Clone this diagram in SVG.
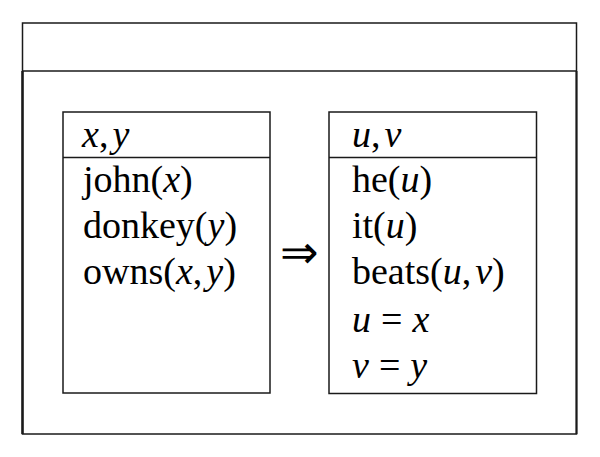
<svg xmlns="http://www.w3.org/2000/svg" width="600" height="457" viewBox="0 0 600 457">
<style>
.box{fill:none;stroke:#1a1a1a;stroke-width:1.5}
text{font-family:'Liberation Serif','Times New Roman',serif;font-size:38px;fill:#000}
.i{font-style:italic}
.ar{font-size:46px;font-weight:300}
</style>
<rect width="600" height="457" fill="#fff"/>
<g id="outer">
<rect class="box" x="22.5" y="23" width="554" height="411"/>
<line class="box" x1="22.5" y1="71" x2="576.5" y2="71"/>
<line x1="22.5" y1="71" x2="22.5" y2="434" stroke="#1a1a1a" stroke-width="2.5"/>
<line x1="576.5" y1="71" x2="576.5" y2="434" stroke="#1a1a1a" stroke-width="2"/>
</g>
<g id="left-box">
<rect class="box" x="63" y="112" width="207" height="281"/>
<line class="box" x1="63" y1="157.5" x2="270" y2="157.5"/>
<text x="82" y="147"><tspan class="i">x</tspan>,<tspan class="i" dx="4">y</tspan></text>
<text x="83" y="192">john(<tspan class="i">x</tspan>)</text>
<text x="83" y="238">donkey(<tspan class="i">y</tspan>)</text>
<text x="83" y="284">owns(<tspan class="i">x</tspan>,<tspan class="i" dx="4">y</tspan>)</text>
</g>
<g id="right-box">
<rect class="box" x="329" y="112" width="207.5" height="281.5"/>
<line class="box" x1="329" y1="157.5" x2="536.5" y2="157.5"/>
<text x="352" y="147"><tspan class="i">u</tspan>,<tspan class="i" dx="4">v</tspan></text>
<text x="352" y="192">he(<tspan class="i">u</tspan>)</text>
<text x="352" y="238">it(<tspan class="i">u</tspan>)</text>
<text x="352" y="284">beats(<tspan class="i">u</tspan>,<tspan class="i" dx="4">v</tspan>)</text>
<text x="352" y="332"><tspan class="i">u</tspan><tspan dx="10">=</tspan><tspan class="i" dx="10">x</tspan></text>
<text x="352" y="378"><tspan class="i">v</tspan><tspan dx="10">=</tspan><tspan class="i" dx="10">y</tspan></text>
</g>
<g id="connectors">
<text class="ar" x="299" y="268" text-anchor="middle">⇒</text>
</g>
</svg>
